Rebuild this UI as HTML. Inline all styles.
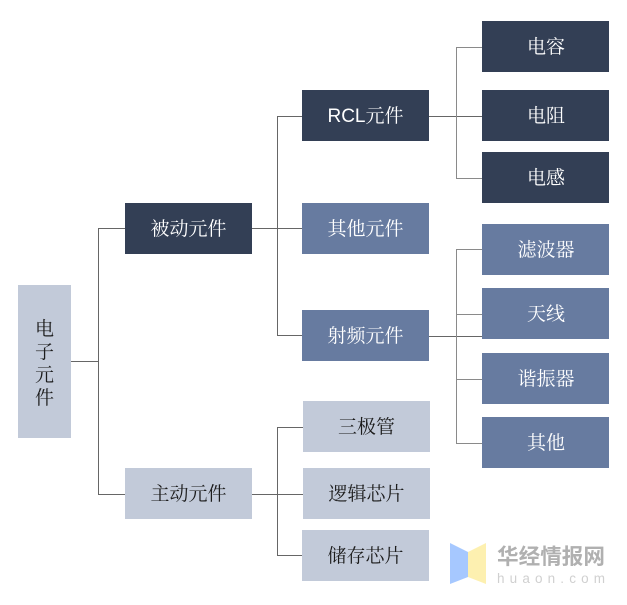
<!DOCTYPE html>
<html>
<head>
<meta charset="utf-8">
<style>
html,body{margin:0;padding:0;background:#fff;}
#c{position:relative;width:627px;height:605px;overflow:hidden;background:#fff;}
svg{position:absolute;left:0;top:0;}
.b{position:absolute;width:127px;height:51px;line-height:53px;text-align:center;font-family:"Liberation Sans","Noto Serif CJK SC",serif;font-size:19px;}
.d{background:#333f55;color:#fff;}
.m{background:#677ba0;color:#fff;}
.l{background:#c2cad9;color:#1c1c1c;}
.r{text-indent:1px;}
</style>
</head>
<body>
<div id="c">
<svg width="627" height="605" viewBox="0 0 627 605">
<g fill="none" stroke="#666" stroke-width="1" shape-rendering="crispEdges">
<path d="M71 361.5H98M98.5 228.5V494.5M98 228.5H125M98 494.5H125"/>
<path d="M252 228.5H302M277.5 116.5V335.5M277 116.5H302M277 335.5H302"/>
<path d="M429 116.5H482"/>
<path d="M429 336.5H482"/>
<path d="M252 494.5H303M277.5 427.5V555.5M277 427.5H303M277 555.5H303"/>
</g>
<g fill="none" stroke="#8a8a8a" stroke-width="1" shape-rendering="crispEdges">
<path d="M456.5 47.5V178.5M456 47.5H482M456 178.5H482"/>
<path d="M456.5 249.5V443.5M456 249.5H482M456 314.5H482M456 379.5H482M456 443.5H482"/>
</g>
<polygon points="450,543 468,552 468,577 450,584" fill="#a6c8ff"/>
<polygon points="468,552 486,543 486,584 468,577" fill="#fdf0b0"/>
<text x="497" y="564" font-family="'Liberation Sans','Noto Sans CJK SC',sans-serif" font-size="21.6" font-weight="700" fill="#b0b0b0">华经情报网</text>
<text x="497" y="583" font-family="'Liberation Sans',sans-serif" font-size="13.5" fill="#d0d0d0" textLength="108">huaon.com</text>
</svg>
<div class="b l" style="left:18px;top:285px;width:53px;height:153px;display:flex;align-items:center;justify-content:center;"><span style="line-height:23px;position:relative;top:2px;">电<br>子<br>元<br>件</span></div>
<div class="b d" style="left:125px;top:203px;">被动元件</div>
<div class="b l" style="left:125px;top:468px;">主动元件</div>
<div class="b d" style="left:302px;top:90px;">RCL元件</div>
<div class="b m" style="left:302px;top:203px;">其他元件</div>
<div class="b m" style="left:302px;top:310px;">射频元件</div>
<div class="b l" style="left:303px;top:401px;">三极管</div>
<div class="b l" style="left:303px;top:468px;">逻辑芯片</div>
<div class="b l" style="left:302px;top:530px;">储存芯片</div>
<div class="b d r" style="left:482px;top:21px;">电容</div>
<div class="b d r" style="left:482px;top:90px;">电阻</div>
<div class="b d r" style="left:482px;top:152px;">电感</div>
<div class="b m r" style="left:482px;top:224px;">滤波器</div>
<div class="b m r" style="left:482px;top:288px;">天线</div>
<div class="b m r" style="left:482px;top:353px;">谐振器</div>
<div class="b m r" style="left:482px;top:417px;">其他</div>
</div>
</body>
</html>
